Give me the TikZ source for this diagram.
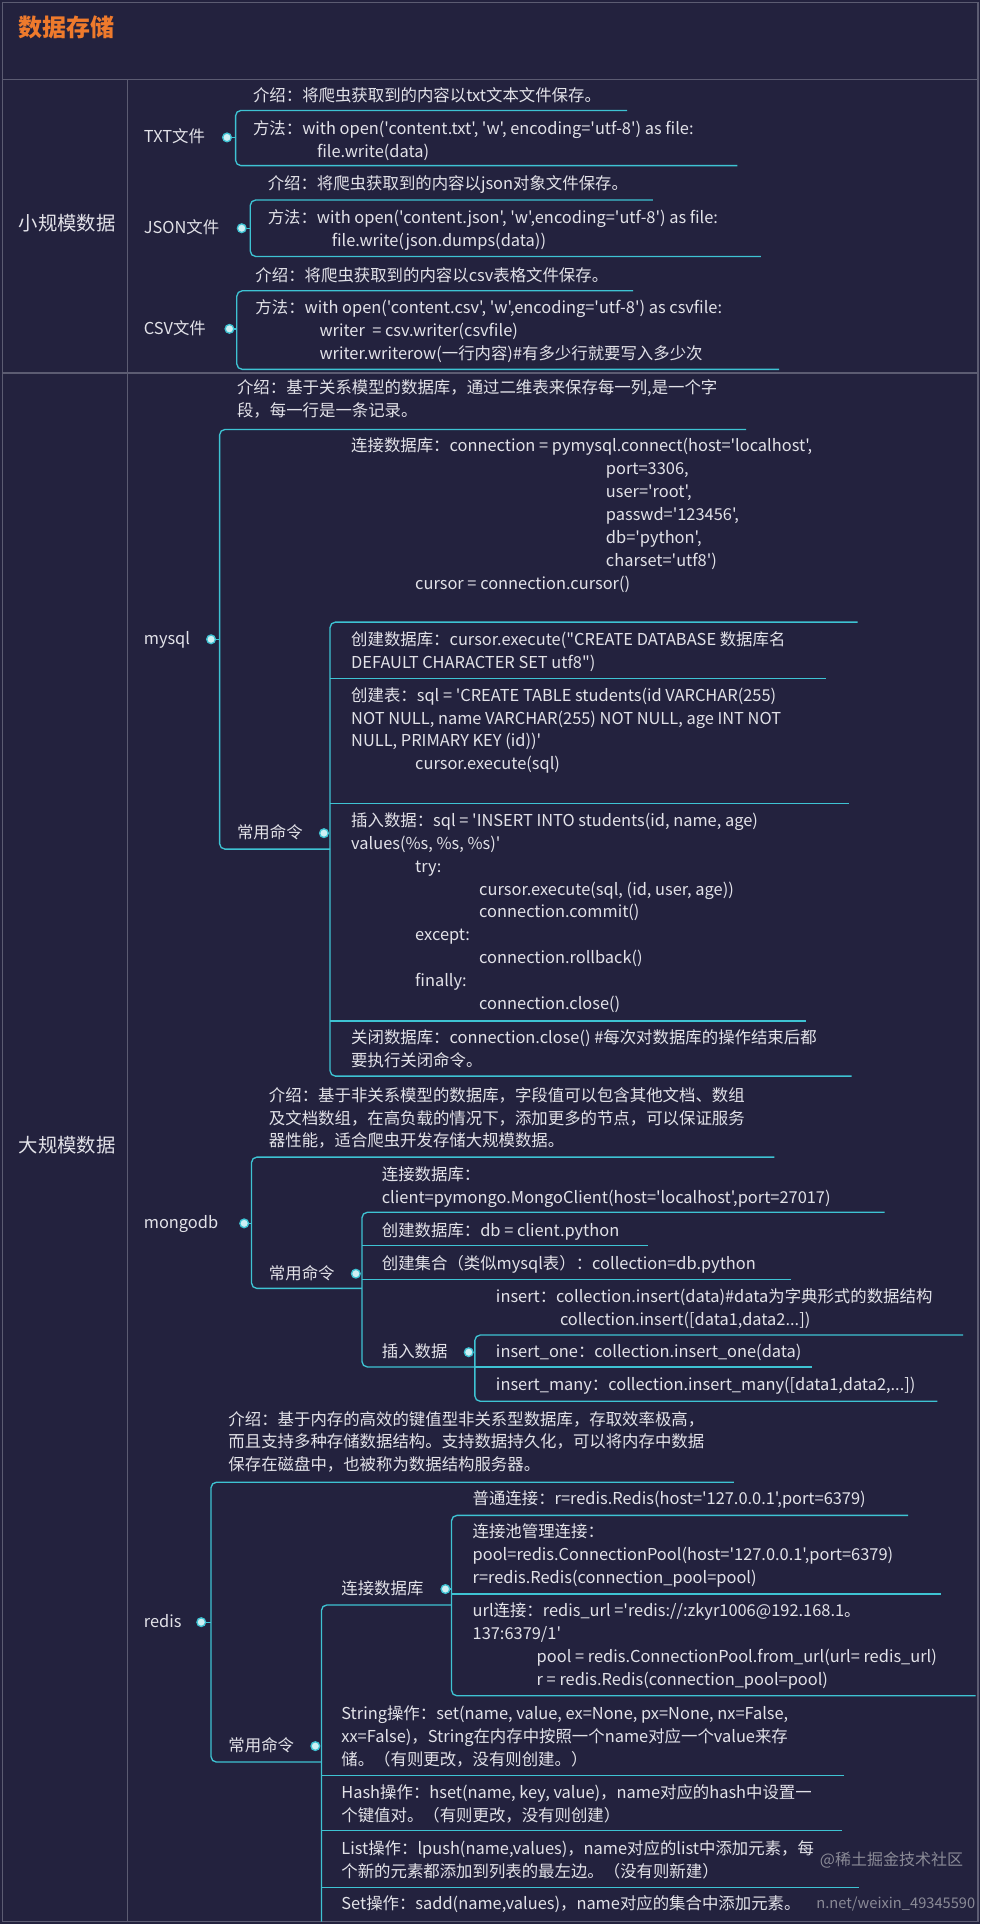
\documentclass[tikz,border=0pt]{standalone}
\usepackage{fontspec}
\newfontfamily\cjk{Noto Sans CJK SC}
\definecolor{bg}{HTML}{23223E}
\definecolor{tc}{HTML}{E2E2E8}
\definecolor{ln}{HTML}{3EC3D3}
\definecolor{frame}{HTML}{5C5C72}
\definecolor{org}{HTML}{EE7A2C}
\definecolor{wm}{HTML}{8A8A96}
\tikzset{
  x=0.92pt, y=-0.92pt,
  txt/.style={anchor=base west, yshift=-4pt, inner sep=0, text=tc,
    font=\cjk\fontsize{12.3}{17.2}\selectfont},
  big/.style={anchor=west, inner sep=0, text=tc, font=\cjk\fontsize{14.5}{17}\selectfont},
  conn/.style={draw=ln, line width=1pt, rounded corners=4pt},
  dot/.style={circle, inner sep=0, minimum size=6.5pt, fill=ln!25!white, draw=ln, line width=1pt},
  sep/.style={draw=frame, line width=0.9pt}
}
\newcommand\ml[1]{\begin{tabular}[t]{@{}l@{}}#1\end{tabular}}
\newcommand\ia{\hspace*{48pt}}
\newcommand\ib{\hspace*{96pt}}
\begin{document}
\begin{tikzpicture}
\fill[bg] (0,0) rectangle (799,1568);
\useasboundingbox (0,0) rectangle (799,1568);
\draw[sep] (2,2) rectangle (797,1566);
\draw[sep] (2,65) -- (797,65);
\draw[sep] (2,304) -- (797,304);
\draw[sep] (104,65) -- (104,1566);
\node[anchor=west, inner sep=0, text=org, font=\cjk\fontsize{18}{20}\selectfont\bfseries] (title) at (15,22) {数据存储};
\node[big] (small) at (15,182) {小规模数据};
\node[big] (large) at (15,933) {大规模数据};

% ---------- TXT
\node[txt] (txtl) at (117,112) {TXT文件};
\node[dot] (d1) at (185,112) {};
\node[txt] (txti) at (206,78) {介绍：将爬虫获取到的内容以txt文本文件保存。};
\node[txt] (txtm) at (206,105) {\ml{方法：with open('content.txt', 'w', encoding='utf-8') as file:\\\hspace*{48pt}file.write(data)}};
\draw[conn] (511,90) -- (192,90) -- (192,135) -- (601,135);
\draw[conn] (d1.east) -- (192,112);

% ---------- JSON
\node[txt] (jsl) at (117,186) {JSON文件};
\node[dot] (d2) at (197,186) {};
\node[txt] (jsi) at (218,150) {介绍：将爬虫获取到的内容以json对象文件保存。};
\node[txt] (jsm) at (218,178) {\ml{方法：with open('content.json', 'w',encoding='utf-8') as file:\\\hspace*{48pt}file.write(json.dumps(data))}};
\draw[conn] (532,163) -- (204,163) -- (204,209) -- (620,209);
\draw[conn] (d2.east) -- (204,186);

% ---------- CSV
\node[txt] (csl) at (117,268) {CSV文件};
\node[dot] (d3) at (187,268) {};
\node[txt] (csi) at (208,225) {介绍：将爬虫获取到的内容以csv表格文件保存。};
\node[txt] (csm) at (208,251) {\ml{方法：with open('content.csv', 'w',encoding='utf-8') as csvfile:\\\hspace*{48pt}writer\ \ = csv.writer(csvfile)\\\hspace*{48pt}writer.writerow(一行内容)\#有多少行就要写入多少次}};
\draw[conn] (516,237) -- (193,237) -- (193,301) -- (635,301);
\draw[conn] (d3.east) -- (193,268);

% ---------- mysql
\node[txt] (myl) at (117,521) {mysql};
\node[dot] (d4) at (172,521) {};
\node[txt] (myi) at (193,316) {\ml{介绍：基于关系模型的数据库，通过二维表来保存每一列,是一个字\\段，每一行是一条记录。}};
\node[txt] (myc) at (193,679) {常用命令};
\node[dot] (d5) at (264,679) {};
\draw[conn] (608,350) -- (179,350) -- (179,692) -- (269,692);
\draw[conn] (d4.east) -- (179,521);
\node[txt] (my1) at (286,364) {\ml{连接数据库：connection = pymysql.connect(host='localhost',\\\hspace*{191pt}port=3306,\\\hspace*{191pt}user='root',\\\hspace*{191pt}passwd='123456',\\\hspace*{191pt}db='python',\\\hspace*{191pt}charset='utf8')\\\ia cursor = connection.cursor()}};
\node[txt] (my2) at (286,522) {\ml{创建数据库：cursor.execute("CREATE DATABASE 数据库名\\DEFAULT CHARACTER SET utf8")}};
\node[txt] (my3) at (286,567) {\ml{创建表：sql = 'CREATE TABLE students(id VARCHAR(255)\\NOT NULL, name VARCHAR(255) NOT NULL, age INT NOT\\NULL, PRIMARY KEY (id))'\\\ia cursor.execute(sql)}};
\node[txt] (my4) at (286,669) {\ml{插入数据：sql = 'INSERT INTO students(id, name, age)\\values(\%s, \%s, \%s)'\\\ia try:\\\ib cursor.execute(sql, (id, user, age))\\\ib connection.commit()\\\ia except:\\\ib connection.rollback()\\\ia finally:\\\ib connection.close()}};
\node[txt] (my5) at (286,846) {\ml{关闭数据库：connection.close() \#每次对数据库的操作结束后都\\要执行关闭命令。}};
\draw[conn] (699,507) -- (269,507) -- (269,877) -- (694,877);
\draw[conn] (269,553) -- (673,553);
\draw[conn] (269,655) -- (692,655);
\draw[conn] (269,832) -- (657,832);

% ---------- mongodb
\node[txt] (mgl) at (117,997) {mongodb};
\node[dot] (d6) at (199,997) {};
\node[txt] (mgi) at (219,893) {\ml{介绍：基于非关系模型的数据库，字段值可以包含其他文档、数组\\及文档数组，在高负载的情况下，添加更多的节点，可以保证服务\\器性能，适合爬虫开发存储大规模数据。}};
\node[txt] (mgc) at (219,1038) {常用命令};
\node[dot] (d7) at (290,1038) {};
\draw[conn] (631,943) -- (205,943) -- (205,1050) -- (295,1050);
\draw[conn] (d6.east) -- (205,997);
\node[txt] (mg1) at (311,958) {\ml{连接数据库：\\client=pymongo.MongoClient(host='localhost',port=27017)}};
\node[txt] (mg2) at (311,1003) {创建数据库：db = client.python};
\node[txt] (mg3) at (311,1030) {创建集合（类似mysql表）：collection=db.python};
\node[txt] (mg4) at (311,1102) {插入数据};
\node[dot] (d8) at (382,1102) {};
\draw[conn] (721,988) -- (295,988) -- (295,1114) -- (387,1114);
\draw[conn] (295,1015) -- (528,1015);
\draw[conn] (295,1043) -- (645,1043);
\node[txt] (mg5) at (404,1057) {\ml{insert：collection.insert(data)\#data为字典形式的数据结构\\\hspace*{48pt}collection.insert([data1,data2...])}};
\node[txt] (mg6) at (404,1102) {insert\_one：collection.insert\_one(data)};
\node[txt] (mg7) at (404,1129) {insert\_many：collection.insert\_many([data1,data2,...])};
\draw[conn] (785,1088) -- (387,1088) -- (387,1142) -- (764,1142);
\draw[conn] (387,1114) -- (662,1114);

% ---------- redis
\node[txt] (rdl) at (117,1322) {redis};
\node[dot] (d9) at (164,1322) {};
\node[txt] (rdi) at (186,1157) {\ml{介绍：基于内存的高效的键值型非关系型数据库，存取效率极高，\\而且支持多种存储数据结构。支持数据持久化，可以将内存中数据\\保存在磁盘中，也被称为数据结构服务器。}};
\node[txt] (rdc) at (186,1423) {常用命令};
\node[dot] (d10) at (257,1423) {};
\draw[conn] (598,1208) -- (172,1208) -- (172,1436) -- (262,1436);
\draw[conn] (d9.east) -- (172,1322);
\node[txt] (rdk) at (278,1295) {连接数据库};
\node[dot] (d11) at (363,1295) {};
\draw[conn] (368,1308) -- (262,1308) -- (262,1566);
\draw[conn] (262,1447) -- (688,1447);
\draw[conn] (262,1492) -- (686,1492);
\draw[conn] (262,1538) -- (700,1538);
\node[txt] (rd1) at (385,1222) {普通连接：r=redis.Redis(host='127.0.0.1',port=6379)};
\node[txt] (rd2) at (385,1249) {\ml{连接池管理连接：\\pool=redis.ConnectionPool(host='127.0.0.1',port=6379)\\r=redis.Redis(connection\_pool=pool)}};
\node[txt] (rd3) at (385,1313) {\ml{url连接：redis\_url ='redis://:zkyr1006@192.168.1。\\137:6379/1'\\\ia pool = redis.ConnectionPool.from\_url(url= redis\_url)\\\ia r = redis.Redis(connection\_pool=pool)}};
\draw[conn] (740,1235) -- (368,1235) -- (368,1382) -- (795,1382);
\draw[conn] (368,1299) -- (767,1299);
\draw[conn] (d11.east) -- (368,1295);
\node[txt] (rd4) at (278,1397) {\ml{String操作：set(name, value, ex=None, px=None, nx=False,\\xx=False)，String在内存中按照一个name对应一个value来存\\储。（有则更改，没有则创建。）}};
\node[txt] (rd5) at (278,1461) {\ml{Hash操作：hset(name, key, value)，name对应的hash中设置一\\个键值对。（有则更改，没有则创建）}};
\node[txt] (rd6) at (278,1507) {\ml{List操作：lpush(name,values)，name对应的list中添加元素，每\\个新的元素都添加到列表的最左边。（没有则新建）}};
\node[txt] (rd7) at (278,1552) {Set操作：sadd(name,values)，name对应的集合中添加元素。};
\node[anchor=west, inner sep=0, text=wm, font=\cjk\fontsize{12}{14}\selectfont] (wm1) at (668,1516) {@稀土掘金技术社区};
\node[anchor=east, inner sep=0, text=wm, font=\cjk\fontsize{11}{14}\selectfont] (wm2) at (795,1552) {n.net/weixin\_49345590};
\end{tikzpicture}
\end{document}
